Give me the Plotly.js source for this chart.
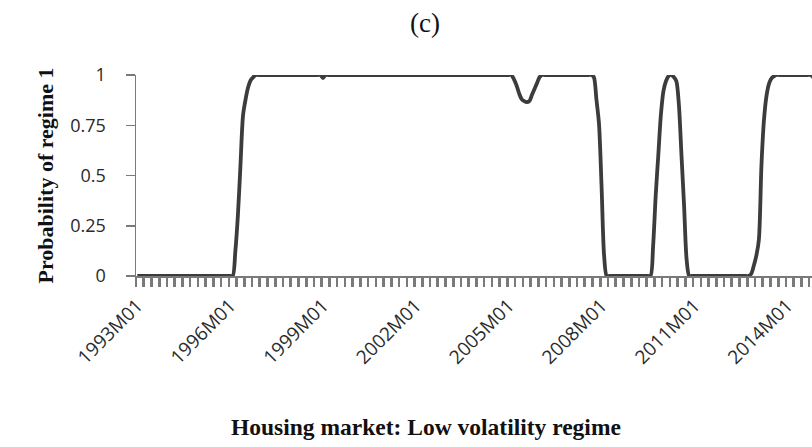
<!DOCTYPE html>
<html>
<head>
<meta charset="utf-8">
<script src="https://cdn.plot.ly/plotly-3.0.1.min.js"></script>
<style>
html,body{margin:0;padding:0;background:#fff;overflow:hidden;}
#chart{width:812px;height:447px;}
</style>
</head>
<body>
<div id="chart"></div>
<script>
// Monthly categories 1993M01 .. 2014M12
var years = [1993,1994,1995,1996,1997,1998,1999,2000,2001,2002,2003,2004,2005,2006,2007,2008,2009,2010,2011,2012,2013,2014];
var months = [];
years.forEach(function(y){ for (var m = 1; m <= 12; m++) { months.push(y + 'M' + (m < 10 ? '0' + m : m)); } });

// Probability of regime 1 (one row per year, Jan..Dec)
var prob = [
  0,0,0,0,0,0,0,0,0,0,0,0,                              // 1993
  0,0,0,0,0,0,0,0,0,0,0,0,                              // 1994
  0,0,0,0,0,0,0,0,0,0,0,0,                              // 1995
  0,0,0.12,0.3,0.55,0.8,0.88,0.94,0.975,0.99,1,1,       // 1996
  1,1,1,1,1,1,1,1,1,1,1,1,                              // 1997
  1,1,1,1,1,1,1,1,1,1,1,1,                              // 1998
  0.985,1,1,1,1,1,1,1,1,1,1,1,                          // 1999
  1,1,1,1,1,1,1,1,1,1,1,1,                              // 2000
  1,1,1,1,1,1,1,1,1,1,1,1,                              // 2001
  1,1,1,1,1,1,1,1,1,1,1,1,                              // 2002
  1,1,1,1,1,1,1,1,1,1,1,1,                              // 2003
  1,1,1,1,1,1,1,1,1,1,1,1,                              // 2004
  1,1,0.98,0.95,0.91,0.88,0.87,0.865,0.87,0.9,0.93,0.96,// 2005
  0.99,1,1,1,1,1,1,1,1,1,1,1,                           // 2006
  1,1,1,1,1,1,1,1,1,0.99,0.88,0.76,                     // 2007
  0.45,0.1,0,0,0,0,0,0,0,0,0,0,                         // 2008
  0,0,0,0,0,0,0,0,0.15,0.4,0.6,0.8,                     // 2009
  0.92,0.97,0.995,1,0.99,0.97,0.85,0.6,0.35,0.08,0,0,   // 2010
  0,0,0,0,0,0,0,0,0,0,0,0,                              // 2011
  0,0,0,0,0,0,0,0,0,0,0.01,0.05,                        // 2012
  0.1,0.18,0.55,0.78,0.9,0.96,0.985,0.995,1,1,1,1,      // 2013
  1,1,1,1,1,1,1,1,1,1,0.99,0.95                         // 2014
];

var tickLabels = ['1993M01','1996M01','1999M01','2002M01','2005M01','2008M01','2011M01','2014M01'];
var yTickVals = [0, 0.25, 0.5, 0.75, 1];
var yTickText = ['0', '0.25', '0.5', '0.75', '1'];

var xIdx = months.map(function(_, i){ return i; });
var tickPos = tickLabels.map(function(l){ return months.indexOf(l); });

var trace = {
  x: xIdx,
  y: prob,
  type: 'scatter',
  mode: 'lines',
  line: {color: '#3c3c3c', width: 3.8, shape: 'spline', smoothing: 0.8},
  cliponaxis: false,
  hoverinfo: 'skip'
};

var layout = {
  width: 812,
  height: 447,
  margin: {l: 136, r: 0, t: 75, b: 171, pad: 0},
  paper_bgcolor: '#ffffff',
  plot_bgcolor: '#ffffff',
  showlegend: false,
  title: {
    text: '(c)',
    font: {family: 'Liberation Serif', size: 27, color: '#111'},
    xref: 'container', x: 425/812, xanchor: 'center',
    yref: 'container', y: 1 - 23/447, yanchor: 'middle'
  },
  xaxis: {
    range: [-0.5, 261.6],
    tickmode: 'array',
    tickvals: tickPos,
    ticktext: tickLabels,
    tickangle: -45,
    ticks: 'outside',
    ticklen: 9,
    tickcolor: 'rgba(0,0,0,0)',
    tickfont: {family: 'Open Sans', size: 19, color: '#2a2a2a'},
    showline: true,
    linecolor: '#7a7a7a',
    linewidth: 2,
    showgrid: false,
    zeroline: false,
    layer: 'below traces',
    minor: {
      tickmode: 'linear', tick0: -0.5, dtick: 3,
      ticks: 'outside', ticklen: 9, tickwidth: 2.6, tickcolor: '#7a7a7a',
      showgrid: false
    }
  },
  yaxis: {
    range: [0, 1],
    tickmode: 'array',
    tickvals: yTickVals,
    ticktext: yTickText,
    ticks: 'outside',
    ticklen: 9,
    tickwidth: 1.5,
    tickcolor: '#7a7a7a',
    ticklabelstandoff: 16,
    tickfont: {family: 'Open Sans', size: 18, color: '#2a2a2a'},
    showline: true,
    linecolor: '#7a7a7a',
    linewidth: 1.5,
    showgrid: false,
    zeroline: false,
    layer: 'below traces',
    title: {
      text: '<b>Probability of regime 1</b>',
      font: {family: 'Liberation Serif', size: 22, color: '#111'},
      standoff: 10
    }
  },
  annotations: [{
    text: '<b>Housing market: Low volatility regime</b>',
    xref: 'paper', yref: 'paper',
    x: (426 - 136) / 676, y: -(427 - 276) / 201,
    xanchor: 'center', yanchor: 'middle',
    showarrow: false,
    font: {family: 'Liberation Serif', size: 23.5, color: '#111'}
  }]
};

Plotly.newPlot('chart', [trace], layout, {displayModeBar: false, staticPlot: true});
</script>
</body>
</html>
